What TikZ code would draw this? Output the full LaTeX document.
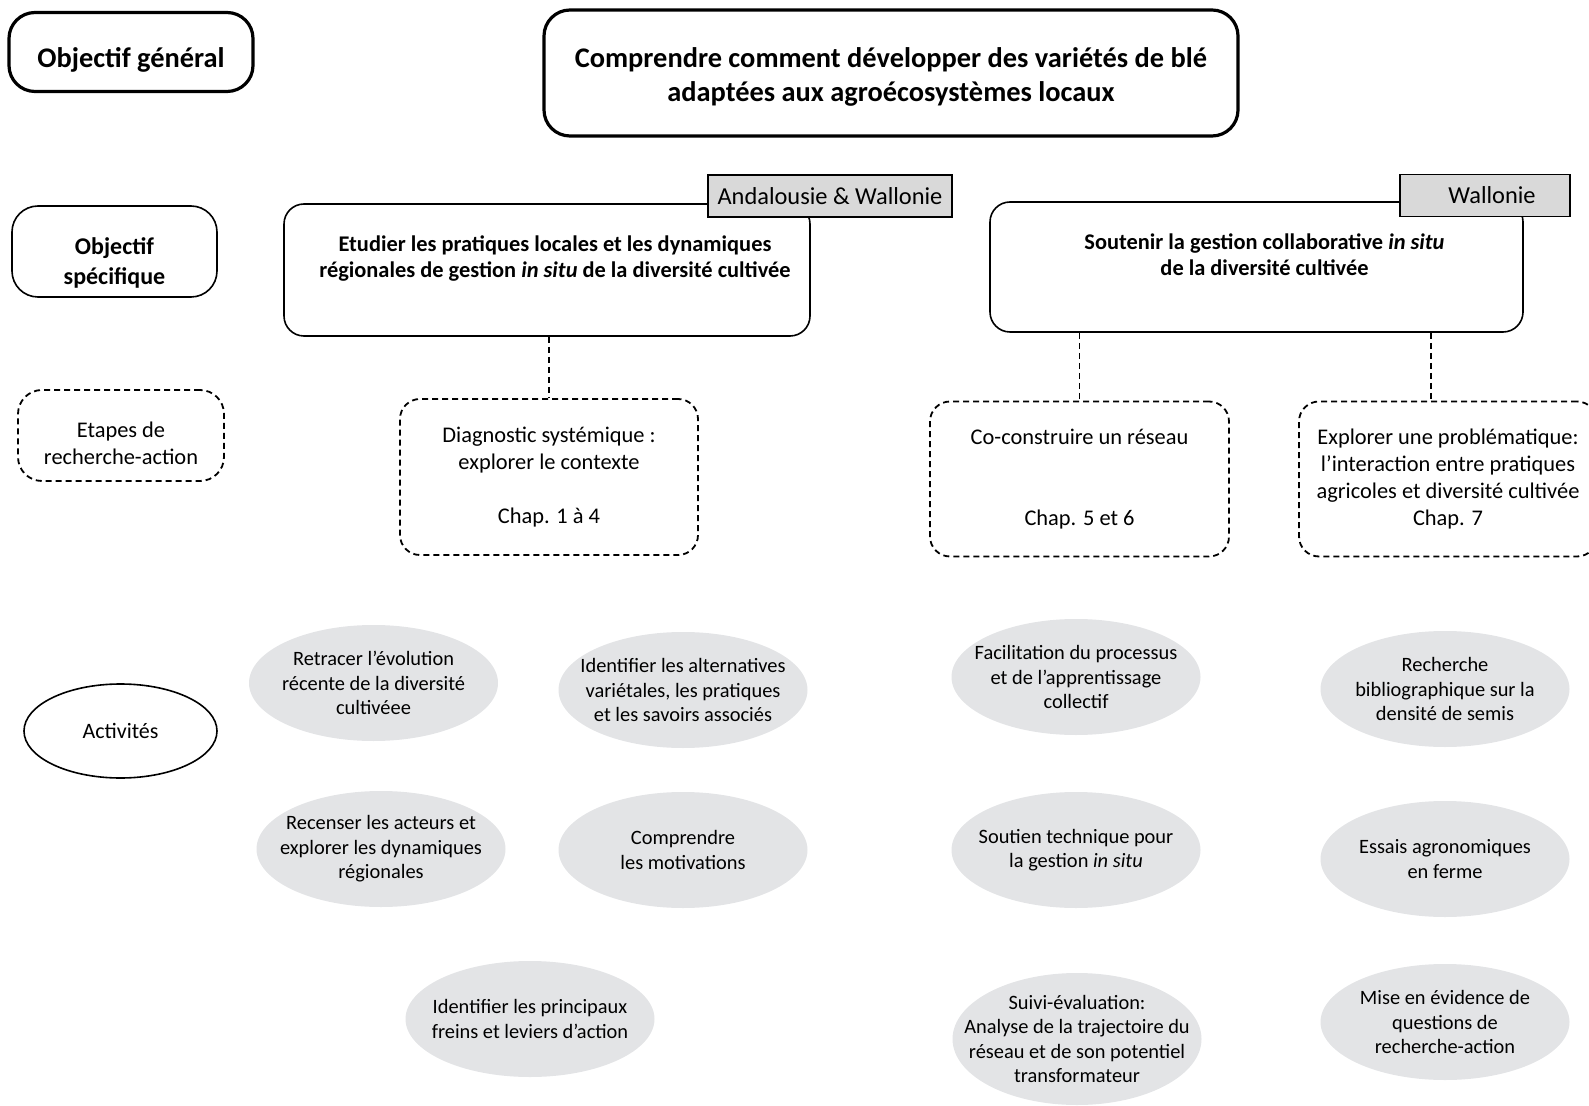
\documentclass[tikz,border=0pt]{standalone}
\usepackage{fontspec}
\setmainfont{Carlito}
\usetikzlibrary{shapes.geometric}

\tikzset{
  frame/.style={draw, rounded corners=10pt, line width=0.8pt, align=center},
  thickframe/.style={frame, rounded corners=13pt, line width=1.6pt},
  stage/.style={frame, dash pattern=on 3pt off 2pt, line width=0.9pt,
    font=\fontsize{11.2}{13.5}\selectfont},
  caption/.style={inner sep=0pt, align=center},
  tag/.style={draw, fill=tagfill, line width=0.8pt, minimum height=21pt,
    font=\fontsize{12.2}{14}\selectfont},
  activity/.style={ellipse, fill=actfill, inner xsep=-16pt, inner ysep=-8pt,
    minimum width=124.5pt, minimum height=58pt, align=center,
    font=\fontsize{10.2}{12.2}\selectfont},
  link/.style={dash pattern=on 3pt off 2pt, line width=0.8pt},
}
\definecolor{tagfill}{RGB}{217,217,217}
\definecolor{actfill}{RGB}{227,228,230}

\begin{document}
\begin{tikzpicture}[x=0.5pt, y=-0.5pt]
  \useasboundingbox (0,0) rectangle (1589,1106);

  \node [thickframe, minimum width=122pt, minimum height=39.5pt] (gen) at (131,52) {};
  \node [caption, font=\fontsize{14.2}{17}\selectfont\bfseries] (gentext) at (131,60) {Objectif général};
  \node [thickframe, minimum width=347pt, minimum height=63pt] (main) at (891,73) {};
  \node [caption, font=\fontsize{14.2}{17.4}\selectfont\bfseries] (maintext) at (891,77)
    {Comprendre comment développer des variétés de blé\\adaptées aux agroécosystèmes locaux};

  \node [frame, rounded corners=13pt, minimum width=102.5pt, minimum height=45.5pt] (spec) at (114.5,251.5) {};
  \node [caption, font=\fontsize{12}{14.7}\selectfont\bfseries] (spectext) at (114.5,263) {Objectif\\spécifique};
  \node [frame, minimum width=263pt, minimum height=66pt] (etudier) at (547,270) {};
  \node [anchor=north, caption, font=\fontsize{11.2}{13.4}\selectfont\bfseries]
    (etudiertext) at (555,235)
    {Etudier les pratiques locales et les dynamiques\\régionales de gestion \textit{in situ} de la diversité cultivée};
  \node [tag, minimum width=122pt] (tagA) at (830,196) {Andalousie \& Wallonie};
  \node [frame, minimum width=266.5pt, minimum height=65pt] (soutenir) at (1256.5,267) {};
  \node [anchor=north, caption, font=\fontsize{11.2}{13.4}\selectfont\bfseries]
    (soutenirtext) at (1264.5,233)
    {Soutenir la gestion collaborative \textit{in situ}\\de la diversité cultivée};
  \node [tag, minimum width=85pt] (tagW) at (1485,195.5) {\hspace{7pt}\raisebox{-1.5pt}{Wallonie}};

  \node [stage, rounded corners=12pt, minimum width=103pt, minimum height=45.5pt] (etapes)
    at (121,435.5) {};
  \node [caption, font=\fontsize{11.2}{13.5}\selectfont] (etapestext) at (121,443) {Etapes de\\recherche-action};
  \node [stage, minimum width=149pt, minimum height=78pt] (diag) at (549,477)
    {Diagnostic systémique :\\explorer le contexte\\[13.5pt]Chap. 1 à 4};
  \node [stage, minimum width=149.5pt, minimum height=77.5pt] (cocon) at (1079.5,479)
    {Co-construire un réseau\\[27pt]Chap. 5 et 6};
  \node [stage, minimum width=149pt, minimum height=77.5pt] (explo) at (1448,479)
    {Explorer une problématique:\\l’interaction entre pratiques\\agricoles et diversité cultivée\\Chap. 7};

  \draw [link] (etudier.south -| diag.north) -- (diag.north);
  \draw [link] (soutenir.south -| cocon.north) -- (cocon.north);
  \draw [link] (soutenir.south -| 1431,0) -- (explo.north -| 1431,0);

  \node [ellipse, draw, line width=0.8pt, minimum width=96.5pt, minimum height=47pt,
    font=\fontsize{11}{13.2}\selectfont] (act) at (120.5,731) {Activités};

  \node [activity] (retracer) at (373.5,683) {Retracer l’évolution\\récente de la diversité\\cultivéee};
  \node [activity] (alternatives) at (683,690) {Identifier les alternatives\\variétales, les pratiques\\et les savoirs associés};
  \node [activity] (recenser) at (381,849) {Recenser les acteurs et\\explorer les dynamiques\\régionales};
  \node [activity] (motivations) at (683,850) {Comprendre\\les motivations};
  \node [activity] (freins) at (530,1019) {Identifier les principaux\\freins et leviers d’action};

  \node [activity] (facilitation) at (1076,677) {Facilitation du processus\\et de l’apprentissage\\collectif};
  \node [activity] (soutien) at (1076,850) {Soutien technique pour\\la gestion \textit{in situ}};
  \node [activity, minimum height=66pt] (suivi) at (1077,1039)
    {Suivi-évaluation:\\Analyse de la trajectoire du\\réseau et de son potentiel\\transformateur};

  \node [activity] (biblio) at (1445,689) {Recherche\\bibliographique sur la\\densité de semis};
  \node [activity] (essais) at (1445,859) {Essais agronomiques\\en ferme};
  \node [activity] (questions) at (1445,1022) {Mise en évidence de\\questions de\\recherche-action};
\end{tikzpicture}
\end{document}
